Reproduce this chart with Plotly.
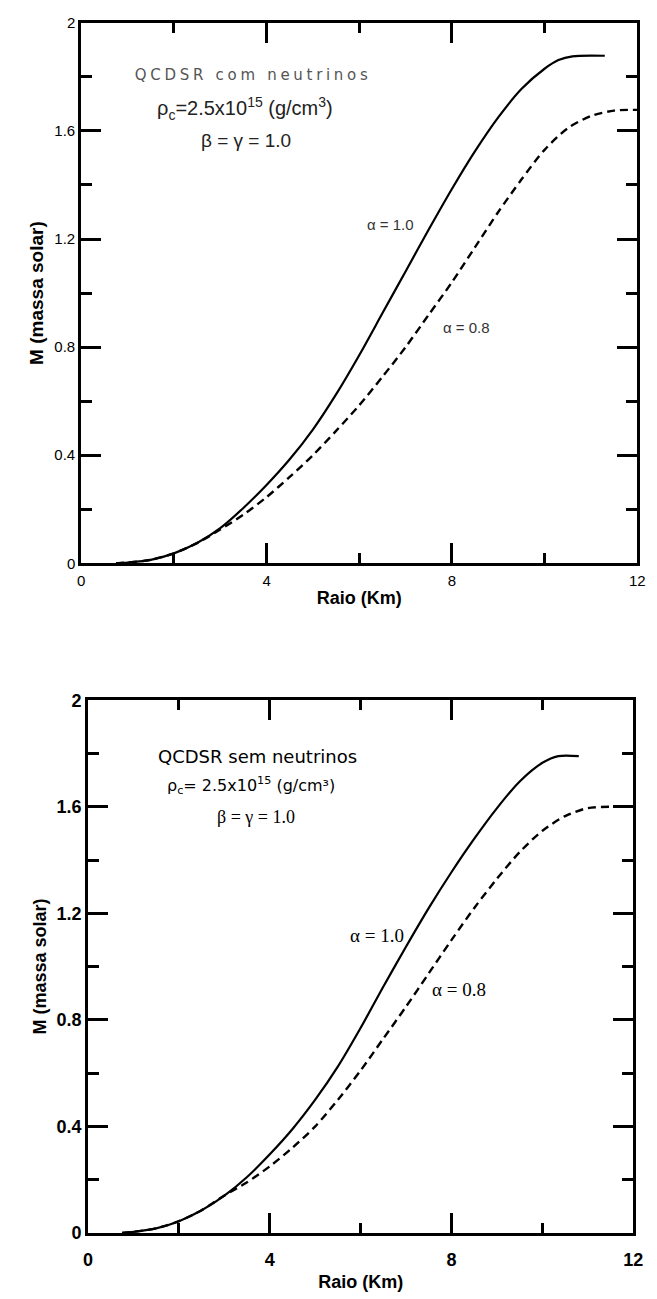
import plotly.graph_objects as go

# ---- data: top panel (com neutrinos) ----
r_top_a10 = [0.75, 1.0, 1.5, 2.0, 2.5, 3.0, 3.5, 4.0, 4.5, 5.0, 5.5, 6.0, 6.5, 7.0, 7.5,
             8.0, 8.5, 9.0, 9.5, 10.0, 10.3, 10.6, 11.3]
m_top_a10 = [0.0, 0.003, 0.013, 0.037, 0.075, 0.13, 0.205, 0.29, 0.385, 0.495, 0.625, 0.77,
             0.925, 1.08, 1.235, 1.385, 1.525, 1.65, 1.755, 1.83, 1.862, 1.876, 1.878]
r_top_a08 = [0.75, 1.0, 1.5, 2.0, 2.5, 3.0, 3.5, 4.0, 4.5, 5.0, 5.5, 6.0, 6.5, 7.0, 7.5,
             8.0, 8.5, 9.0, 9.5, 10.0, 10.5, 11.0, 11.5, 12.0]
m_top_a08 = [0.0, 0.003, 0.013, 0.037, 0.075, 0.125, 0.18, 0.245, 0.32, 0.40, 0.49, 0.585,
             0.69, 0.80, 0.92, 1.04, 1.17, 1.30, 1.42, 1.53, 1.61, 1.655, 1.675, 1.678]

# ---- data: bottom panel (sem neutrinos) ----
r_bot_a10 = [0.75, 1.0, 1.5, 2.0, 2.5, 3.0, 3.5, 4.0, 4.5, 5.0, 5.5, 6.0, 6.5, 7.0, 7.5,
             8.0, 8.5, 9.0, 9.5, 10.0, 10.35, 10.8]
m_bot_a10 = [0.0, 0.004, 0.017, 0.044, 0.085, 0.14, 0.21, 0.295, 0.39, 0.50, 0.625, 0.77,
             0.925, 1.075, 1.22, 1.355, 1.48, 1.595, 1.695, 1.765, 1.79, 1.79]
r_bot_a08 = [0.75, 1.0, 1.5, 2.0, 2.5, 3.0, 3.5, 4.0, 4.5, 5.0, 5.5, 6.0, 6.5, 7.0, 7.5,
             8.0, 8.5, 9.0, 9.5, 10.0, 10.5, 11.0, 11.5, 12.0]
m_bot_a08 = [0.0, 0.004, 0.017, 0.044, 0.085, 0.14, 0.19, 0.25, 0.32, 0.40, 0.50, 0.61,
             0.73, 0.85, 0.975, 1.10, 1.22, 1.33, 1.43, 1.51, 1.565, 1.595, 1.60, 1.60]

x_ticks = [0, 4, 8, 12]
y_ticks = [0, 0.4, 0.8, 1.2, 1.6, 2.0]
y_ticktext = ["0", "0.4", "0.8", "1.2", "1.6", "2"]

fig = go.Figure()
solid = dict(color="black", width=2.2, shape="spline", smoothing=0.8)
dashed = dict(color="black", width=2.4, dash="8px,5px", shape="spline", smoothing=0.8)
fig.add_trace(go.Scatter(x=r_top_a10, y=m_top_a10, mode="lines", line=solid,
                         xaxis="x", yaxis="y", showlegend=False))
fig.add_trace(go.Scatter(x=r_top_a08, y=m_top_a08, mode="lines", line=dashed,
                         xaxis="x", yaxis="y", showlegend=False))
fig.add_trace(go.Scatter(x=r_bot_a10, y=m_bot_a10, mode="lines", line=solid,
                         xaxis="x2", yaxis="y2", showlegend=False))
fig.add_trace(go.Scatter(x=r_bot_a08, y=m_bot_a08, mode="lines", line=dashed,
                         xaxis="x2", yaxis="y2", showlegend=False))

def xax(domain, anchor, font, standoff):
    return dict(domain=domain, anchor=anchor, range=[0, 12], tickmode="array", tickvals=x_ticks,
                ticks="inside", ticklen=20, tickwidth=2.5, tickcolor="black", ticklabelstandoff=standoff,
                minor=dict(ticks="inside", ticklen=10, tickwidth=2.5, tickcolor="black", dtick=2, tick0=0),
                showline=True, linewidth=3, linecolor="black", mirror="ticks",
                showgrid=False, zeroline=False, tickfont=font)

def yax(domain, anchor, font):
    return dict(domain=domain, anchor=anchor, range=[0, 2], tickmode="array", tickvals=y_ticks,
                ticktext=y_ticktext,
                ticks="inside", ticklen=20, tickwidth=2.5, tickcolor="black",
                minor=dict(ticks="inside", ticklen=11, tickwidth=2.5, tickcolor="black", dtick=0.2, tick0=0),
                showline=True, linewidth=3, linecolor="black", mirror="ticks",
                showgrid=False, zeroline=False, tickfont=font)

top_font = dict(family="Liberation Sans, Arial", size=15, color="black")
bot_font = dict(family="Liberation Sans, Arial", size=18, color="black", weight="bold")
title_font_x = dict(family="Liberation Sans, Arial", size=18, color="black", weight="bold")

xa1 = xax([78 / 657, 647 / 657], "y", top_font, 2)
xa1["title"] = dict(text="Raio (Km)", font=title_font_x, standoff=4)
ya1 = yax([1 - 562 / 1299, 1 - 13 / 1299], "x", top_font)
ya1["title"] = dict(text="M (massa solar)",
                    font=dict(family="Liberation Sans, Arial", size=19, color="black", weight="bold"), standoff=6)

xa2 = xax([85 / 657, 643 / 657], "y2", bot_font, 9)
xa2["title"] = dict(text="Raio (Km)", font=title_font_x, standoff=6)
ya2 = yax([1 - 1242 / 1299, 1 - 701 / 1299], "x2", bot_font)
ya2["title"] = dict(text="M (massa solar)",
                    font=dict(family="Liberation Sans, Arial", size=18, color="black", weight="bold"), standoff=6)

annotations = [
    dict(xref="x", yref="y", x=3.71, y=1.807, text="QCDSR com neutrinos", showarrow=False,
         font=dict(family="DejaVu Sans", size=15, color="#555")),
    dict(xref="x", yref="y", x=3.54, y=1.683, text="ρ<sub>c</sub>=2.5x10<sup>15</sup> (g/cm<sup>3</sup>)",
         showarrow=False, font=dict(family="Liberation Sans, Arial", size=20, color="#222")),
    dict(xref="x", yref="y", x=3.56, y=1.566, text="β = γ = 1.0", showarrow=False,
         font=dict(family="Liberation Sans, Arial", size=19, color="#222")),
    dict(xref="x", yref="y", x=6.68, y=1.253, text="α = 1.0", showarrow=False,
         font=dict(family="Liberation Sans, Arial", size=15, color="#333")),
    dict(xref="x", yref="y", x=8.31, y=0.874, text="α = 0.8", showarrow=False,
         font=dict(family="Liberation Sans, Arial", size=15, color="#333")),
    dict(xref="x2", yref="y2", x=3.72, y=1.789, text="QCDSR sem neutrinos", showarrow=False,
         font=dict(family="DejaVu Sans", size=18, color="black")),
    dict(xref="x2", yref="y2", x=3.59, y=1.678, text="ρ<sub>c</sub>= 2.5x10<sup>15</sup> (g/cm³)",
         showarrow=False, font=dict(family="DejaVu Sans", size=16, color="black")),
    dict(xref="x2", yref="y2", x=3.70, y=1.560, text="β = γ = 1.0", showarrow=False,
         font=dict(family="Liberation Serif", size=18, color="black")),
    dict(xref="x2", yref="y2", x=6.37, y=1.116, text="α = 1.0", showarrow=False,
         font=dict(family="Liberation Serif", size=19, color="black")),
    dict(xref="x2", yref="y2", x=8.17, y=0.913, text="α = 0.8", showarrow=False,
         font=dict(family="Liberation Serif", size=19, color="black")),
]

fig.update_layout(
    width=657, height=1299,
    margin=dict(l=0, r=0, t=0, b=0),
    paper_bgcolor="white", plot_bgcolor="white",
    xaxis=xa1, yaxis=ya1, xaxis2=xa2, yaxis2=ya2,
    annotations=annotations,
    showlegend=False,
)

post = """
document.querySelectorAll('text.annotation-text').forEach(function(t){
  if (t.textContent.indexOf('com neutrinos') >= 0) { t.style.letterSpacing = '3.7px'; }
});
"""

fig.write_html("out.html", post_script=post)
